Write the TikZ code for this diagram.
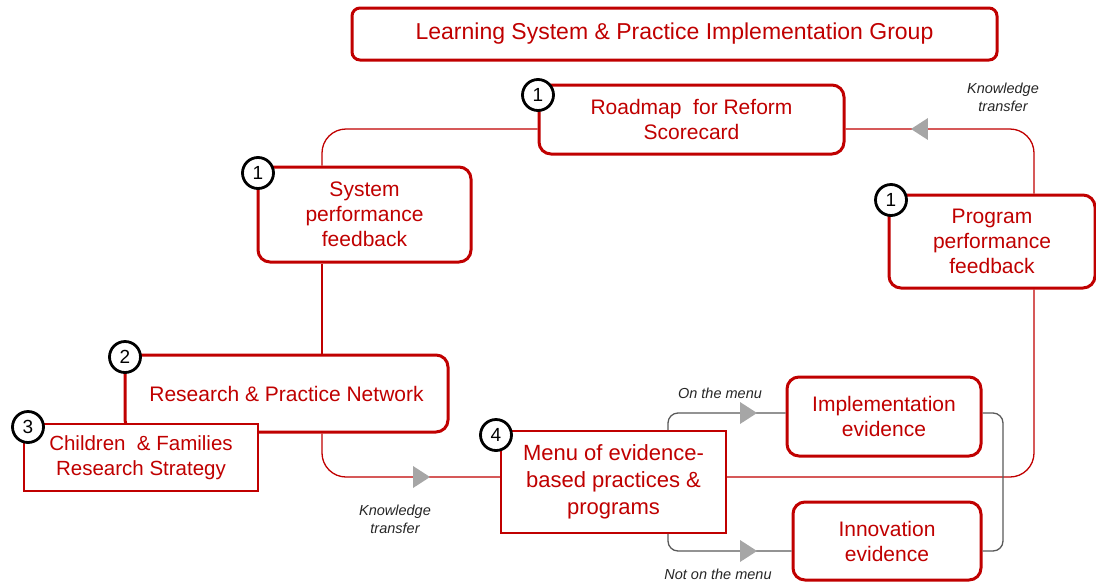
\documentclass[tikz,border=0pt]{standalone}
\usepackage{fontspec}
\setmainfont{Liberation Sans}
\usepackage{xcolor}
\usetikzlibrary{positioning,shapes.geometric}
\definecolor{lsred}{RGB}{192,0,0}

\begin{document}
\begin{tikzpicture}[x=1pt,y=-1pt,inner sep=2pt,
    rbox/.style={draw=lsred,line width=3pt,rounded corners=12pt,fill=white,text=lsred,align=center,font=\fontsize{21}{25}\selectfont},
    sbox/.style={draw=lsred,line width=1.8pt,fill=white,text=lsred,align=center,font=\fontsize{20.5}{25}\selectfont},
    badge/.style={circle,draw=black,line width=2.8pt,fill=white,minimum size=31pt,inner sep=0pt,font=\fontsize{19}{19}\selectfont},
    link/.style={draw=lsred,line width=1.3pt,rounded corners=24pt},
    glink/.style={draw=black!65,line width=1.3pt,rounded corners=10pt},
    tri/.style={isosceles triangle,isosceles triangle stretches,fill=black!35,minimum width=22pt,minimum height=17pt,inner sep=0pt},
    note/.style={align=center,font=\itshape\fontsize{14.5}{18}\selectfont,text=black!85}]
        \useasboundingbox (0,0) rectangle (1096,582);
        %boxes
            \draw (674.5,34) node(title) [rbox,rounded corners=8pt,minimum width=645pt,minimum height=52pt,font=\fontsize{23}{27}\selectfont] {Learning System \& Practice Implementation Group};
            \draw (691.5,119.5) node(road) [rbox,minimum width=305pt,minimum height=69pt] {Roadmap~~for Reform\\Scorecard}
                  (364.5,214.5) node(sys) [rbox,minimum width=213pt,minimum height=95pt] {System\\performance\\feedback}
                  (992,241.5) node(prog) [rbox,minimum width=206pt,minimum height=93pt] {Program\\performance\\feedback}
                  (286.5,393.5) node(res) [rbox,minimum width=323pt,minimum height=77pt] {Research \& Practice Network}
                  (141,457.5) node(cfrs) [sbox,minimum width=234pt,minimum height=67pt] {Children~~\& Families\\Research Strategy}
                  (613.5,482) node(menu) [sbox,minimum width=225pt,minimum height=102pt,font=\fontsize{22}{27}\selectfont] {Menu of evidence-\\based practices \&\\programs}
                  (884,416.5) node(impl) [rbox,minimum width=194pt,minimum height=79pt] {Implementation\\evidence}
                  (887,541) node(inno) [rbox,minimum width=188pt,minimum height=78pt] {Innovation\\evidence};

        %lines
            \coordinate (lx) at (322,0);
            \coordinate (rx) at (1034,0);
            \coordinate (ty) at (0,129);
            \coordinate (my) at (0,477);
            \coordinate (gx) at (668,0);
            \coordinate (gr) at (1003,0);
            \coordinate (gt) at (0,413);
            \coordinate (gy) at (0,551);
            \draw[link] (sys.north -| lx) |- (road.west |- ty);
            \draw[link] (sys.south -| lx) to (res.north -| lx);
            \draw[link] (res.south -| lx) |- (menu.west |- my);
            \draw[link] (menu.east |- my) -| (prog.south -| rx);
            \draw[link] (prog.north -| rx) |- (road.east |- ty);
            \draw[glink] (menu.north -| gx) |- (impl.west |- gt);
            \draw[glink] (menu.south -| gx) |- (inno.west |- gy);
            \draw[glink] (impl.east |- gt) -| (gr |- gy) -- (inno.east |- gy);

            \draw (419,477) node(kt1) [tri] {}
                  (922,129) node(kt2) [tri,shape border rotate=180] {}
                  (746,413) node(on) [tri] {}
                  (746,551) node(off) [tri] {};

        %numbers
            \draw (538,95) node(broad) [badge] {1}
                  (258,173) node(bsys) [badge] {1}
                  (891,200) node(bprog) [badge] {1}
                  (125,357) node(bres) [badge] {2}
                  (28,427) node(bcfrs) [badge] {3}
                  (496,435) node(bmenu) [badge] {4};

            \draw (720,393) node(lon) [note] {On the menu}
                  (718,574) node(loff) [note] {Not on the menu}
                  (395,519) node(lkt1) [note] {Knowledge\\transfer}
                  (1003,97) node(lkt2) [note] {Knowledge\\transfer};
        \end{tikzpicture}
\end{document}
